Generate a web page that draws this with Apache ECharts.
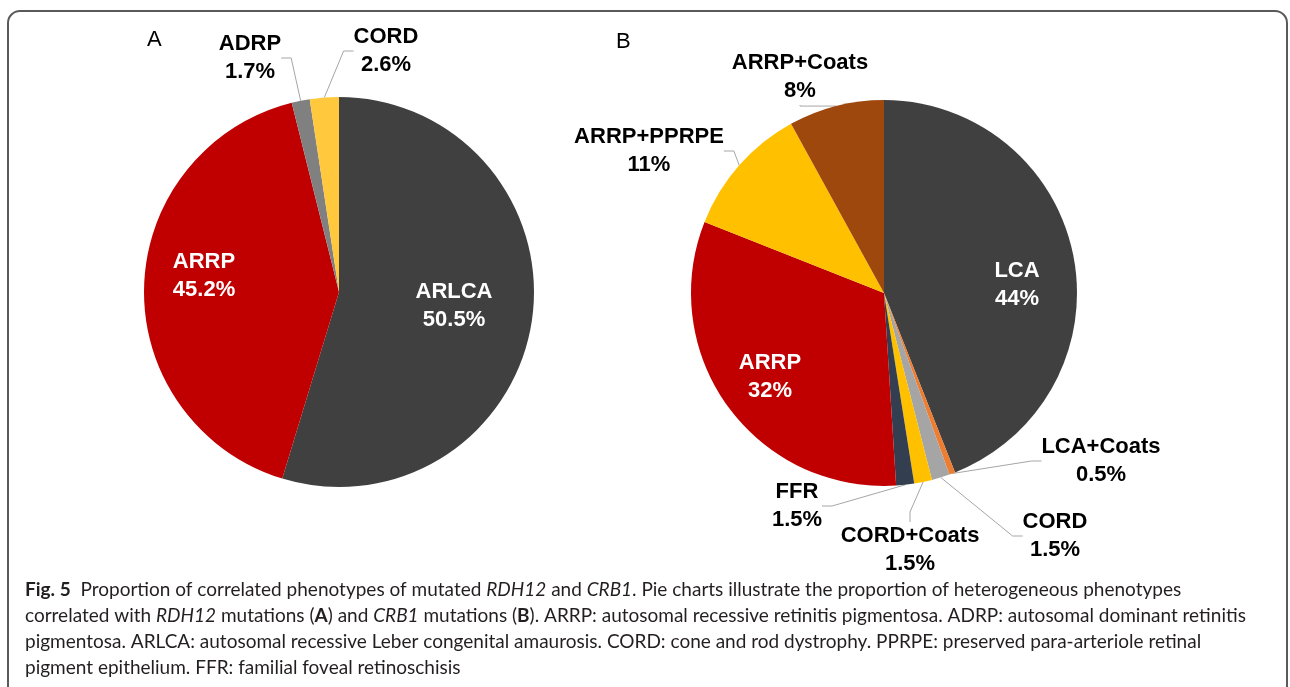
<!DOCTYPE html>
<html>
<head>
<meta charset="utf-8">
<script src="https://cdn.jsdelivr.net/npm/echarts@6/dist/echarts.min.js"></script>
<style>
  html, body { margin: 0; padding: 0; background: #fff; }
  #chart { width: 1290px; height: 687px; }
</style>
</head>
<body>
<div id="chart"></div>
<script>
// panel A - RDH12 (slice sizes as drawn, labels as printed)
var namesA = ['ARLCA', 'ARRP', 'ADRP', 'CORD'];
var valuesA = [54.7, 41.4, 1.5, 2.4];
var pctA = ['50.5%', '45.2%', '1.7%', '2.6%'];
// panel B - CRB1
var namesB = ['LCA', 'LCA+Coats', 'CORD', 'CORD+Coats', 'FFR', 'ARRP', 'ARRP+PPRPE', 'ARRP+Coats'];
var valuesB = [44, 0.5, 1.5, 1.5, 1.5, 32, 11, 8];
var pctB = ['44%', '0.5%', '1.5%', '1.5%', '1.5%', '32%', '11%', '8%'];

var colorsA = ['#404040', '#c00000', '#808080', '#ffc83d'];
var colorsB = ['#404040', '#ed7d31', '#a5a5a5', '#ffc000', '#333f50', '#c00000', '#ffc000', '#9e480e'];
var insideA = ['ARLCA', 'ARRP'];
var insideB = ['LCA', 'ARRP'];

// where each label block sits (centre, px)
var labelPosA = {
    'ARLCA': [454, 306], 'ARRP': [204, 276], 'ADRP': [250, 58], 'CORD': [386, 51]
};
var labelPosB = {
    'LCA': [1017, 285], 'ARRP': [770, 377], 'ARRP+Coats': [800, 77], 'ARRP+PPRPE': [649, 151],
    'LCA+Coats': [1101, 461], 'CORD': [1055, 536], 'CORD+Coats': [910, 550], 'FFR': [797, 506]
};

var labelFont = 'Liberation Sans, Arial, sans-serif';
var capFont = 'Lato, Noto Sans, sans-serif';
var capSize = 19;

function buildData(names, values, colors, inside) {
    var out = [];
    for (var i = 0; i < names.length; i++) {
        var isIn = inside.indexOf(names[i]) >= 0;
        out.push({
            name: names[i],
            value: values[i],
            itemStyle: { color: colors[i] },
            label: { color: isIn ? '#ffffff' : '#000000' },
            labelLine: { show: !isIn }
        });
    }
    return out;
}

function makePie(center, radius, names, values, colors, inside, pct, pos) {
    return {
        type: 'pie',
        center: center,
        radius: radius,
        startAngle: 90,
        clockwise: true,
        silent: true,
        animation: false,
        avoidLabelOverlap: false,
        data: buildData(names, values, colors, inside),
        label: {
            show: true,
            position: 'outside',
            fontFamily: labelFont,
            fontWeight: 'bold',
            fontSize: 22,
            lineHeight: 28,
            align: 'center',
            formatter: function (p) {
                return p.name + '\n' + pct[p.dataIndex];
            }
        },
        labelLine: {
            show: true,
            length: 10,
            length2: 10,
            smooth: false,
            lineStyle: { color: '#a6a6a6', width: 1 }
        },
        labelLayout: function (p) {
            var c = pos[names[p.dataIndex]];
            return { x: c[0], y: c[1], align: 'center', verticalAlign: 'middle' };
        }
    };
}

var richCap = {
    b: { fontWeight: 'bold', fontSize: capSize, fontFamily: capFont, fill: '#231f20' },
    i: { fontStyle: 'italic', fontSize: capSize, fontFamily: capFont, fill: '#231f20' }
};

var chart = echarts.init(document.getElementById('chart'));
var option = {
    backgroundColor: '#ffffff',
    title: [
        { text: 'A', left: 142, top: 24, textStyle: { fontFamily: labelFont, fontWeight: 'normal', fontSize: 22, color: '#000' } },
        { text: 'B', left: 611, top: 26, textStyle: { fontFamily: labelFont, fontWeight: 'normal', fontSize: 22, color: '#000' } }
    ],
    graphic: [
        {
            type: 'rect',
            shape: { x: 8, y: 11, width: 1279, height: 720, r: [12, 12, 0, 0] },
            style: { fill: 'none', stroke: '#5a5a5a', lineWidth: 2 },
            silent: true
        },
        {
            type: 'text', left: 25, top: 580, silent: true,
            style: {
                text: '{b|Fig. 5}  Proportion of correlated phenotypes of mutated {i|RDH12} and {i|CRB1}. Pie charts illustrate the proportion of heterogeneous phenotypes',
                font: capSize + 'px ' + capFont, fill: '#231f20', rich: richCap
            }
        },
        {
            type: 'text', left: 25, top: 606, silent: true,
            style: {
                text: 'correlated with {i|RDH12} mutations ({b|A}) and {i|CRB1} mutations ({b|B}). ARRP: autosomal recessive retinitis pigmentosa. ADRP: autosomal dominant retinitis',
                font: capSize + 'px ' + capFont, fill: '#231f20', rich: richCap
            }
        },
        {
            type: 'text', left: 25, top: 632, silent: true,
            style: {
                text: 'pigmentosa. ARLCA: autosomal recessive Leber congenital amaurosis. CORD: cone and rod dystrophy. PPRPE: preserved para-arteriole retinal',
                font: capSize + 'px ' + capFont, fill: '#231f20'
            }
        },
        {
            type: 'text', left: 25, top: 658, silent: true,
            style: {
                text: 'pigment epithelium. FFR: familial foveal retinoschisis',
                font: capSize + 'px ' + capFont, fill: '#231f20'
            }
        }
    ],
    series: [
        makePie([339, 292], 195, namesA, valuesA, colorsA, insideA, pctA, labelPosA),
        makePie([884, 293], 193, namesB, valuesB, colorsB, insideB, pctB, labelPosB)
    ]
};
chart.setOption(option);
</script>
</body>
</html>
